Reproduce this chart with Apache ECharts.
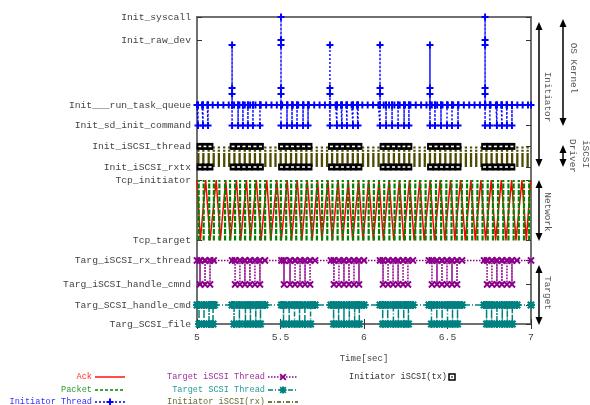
<!DOCTYPE html>
<html>
<head>
<meta charset="utf-8">
<script src="https://cdn.jsdelivr.net/npm/echarts@6/dist/echarts.min.js"></script>
<style>html,body{margin:0;padding:0;background:#fff}#chart{width:590px;height:405px}</style>
</head>
<body>
<div id="chart"></div>
<script>
// y levels (one row per traced function)
var levelNames = ['Init_syscall', 'Init_raw_dev', 'Init___run_task_queue', 'Init_sd_init_command',
    'Init_iSCSI_thread', 'Init_iSCSI_rxtx', 'Tcp_initiator', 'Tcp_target',
    'Targ_iSCSI_rx_thread', 'Targ_iSCSI_handle_cmnd', 'Targ_SCSI_handle_cmd', 'Targ_SCSI_file'];
var levelValues = [15.35, 14.2, 10.95, 9.93, 8.88, 7.85, 7.2, 4.18, 3.18, 1.98, 0.95, 0];
var xTicks = [5, 5.5, 6, 6.5, 7];

// Initiator thread: resting on run_task_queue, drops to sd_init_command, spikes up
var initBaseTimes = [5.000, 5.030, 5.062, 5.094, 5.125, 5.158, 5.190, 5.222, 5.254, 5.286, 5.318, 5.350,
    5.382, 5.414, 5.446, 5.478, 5.510, 5.542, 5.574, 5.606, 5.638, 5.670, 5.702, 5.734, 5.766, 5.798,
    5.830, 5.862, 5.894, 5.926, 5.958, 5.990, 6.022, 6.054, 6.086, 6.118, 6.150, 6.182, 6.214, 6.246,
    6.278, 6.310, 6.342, 6.374, 6.406, 6.438, 6.470, 6.502, 6.534, 6.566, 6.598, 6.630, 6.662, 6.694,
    6.726, 6.758, 6.790, 6.822, 6.854, 6.886, 6.918, 6.950, 6.982, 7.000];
var initDropTimes = [5.006, 5.036, 5.066,
    5.210, 5.246, 5.275, 5.305, 5.335, 5.377,
    5.503, 5.539, 5.569, 5.599, 5.635, 5.665,
    5.796, 5.838, 5.868, 5.898, 5.934, 5.964,
    6.096, 6.132, 6.168, 6.204, 6.240, 6.269,
    6.395, 6.425, 6.461, 6.497, 6.527, 6.563,
    6.725, 6.754, 6.796, 6.826, 6.856, 6.886];
var initSpikeTimes = [5.210, 5.503, 5.796, 6.096, 6.395, 6.725];
var initSpikeLevels = [
    [11.5, 11.8, 13.95],
    [11.5, 11.8, 13.95, 14.2, 15.35],
    [11.5, 11.8, 13.95],
    [11.5, 11.8, 13.95],
    [11.5, 11.8, 13.95],
    [11.5, 11.8, 13.95, 14.2, 15.35]];

// Initiator iSCSI (tx): marks on both iSCSI rows
var txTimes = [5.018, 5.048, 5.078,
    5.216, 5.249, 5.281, 5.314, 5.347, 5.380,
    5.506, 5.539, 5.572, 5.605, 5.638, 5.671,
    5.805, 5.838, 5.871, 5.904, 5.937, 5.970,
    6.114, 6.144, 6.177, 6.210, 6.240, 6.269,
    6.398, 6.431, 6.464, 6.497, 6.530, 6.563,
    6.722, 6.754, 6.787, 6.820, 6.853, 6.886];

// Initiator iSCSI (rx): bars between the two iSCSI rows
var rxTimes = [5.008, 5.038, 5.070, 5.100, 5.131, 5.163, 5.193, 5.224, 5.255, 5.286, 5.316, 5.347,
    5.378, 5.409, 5.440, 5.470, 5.501, 5.532, 5.563, 5.594, 5.625, 5.655, 5.686, 5.717, 5.748, 5.779,
    5.809, 5.840, 5.871, 5.902, 5.933, 5.963, 5.994, 6.025, 6.056, 6.087, 6.117, 6.148, 6.179, 6.210,
    6.241, 6.271, 6.302, 6.333, 6.364, 6.395, 6.425, 6.456, 6.487, 6.518, 6.549, 6.579, 6.610, 6.641,
    6.672, 6.703, 6.733, 6.764, 6.795, 6.826, 6.857, 6.887, 6.918, 6.949, 6.980];

// Network: packets (vertical) and acks (zigzag)
var packetTimes = [5.010, 5.040, 5.073, 5.101, 5.134, 5.168, 5.198, 5.228, 5.258, 5.288, 5.318, 5.348,
    5.378, 5.408, 5.442, 5.474, 5.502, 5.534, 5.564, 5.594, 5.625, 5.656, 5.687, 5.718, 5.749, 5.780,
    5.811, 5.842, 5.873, 5.904, 5.935, 5.966, 5.997, 6.028, 6.059, 6.090, 6.121, 6.152, 6.183, 6.214,
    6.245, 6.276, 6.307, 6.338, 6.369, 6.400, 6.431, 6.462, 6.493, 6.524, 6.555, 6.586, 6.617, 6.648,
    6.679, 6.710, 6.741, 6.772, 6.803, 6.834, 6.865, 6.896, 6.927, 6.958, 6.989];
var ackPoints = [[5.000, 7.2], [5.020, 4.18], [5.052, 7.2], [5.078, 4.18], [5.115, 7.2], [5.140, 4.18],
    [5.172, 7.2], [5.200, 4.18], [5.236, 7.2], [5.262, 4.18], [5.296, 7.2], [5.320, 4.18], [5.355, 7.2],
    [5.384, 4.18], [5.418, 7.2], [5.442, 4.18], [5.478, 7.2], [5.505, 4.18], [5.540, 7.2], [5.566, 4.18],
    [5.600, 7.2], [5.628, 4.18], [5.660, 7.2], [5.690, 4.18], [5.722, 7.2], [5.748, 4.18], [5.784, 7.2],
    [5.810, 4.18], [5.845, 7.2], [5.872, 4.18], [5.906, 7.2], [5.932, 4.18], [5.968, 7.2], [5.994, 4.18],
    [6.028, 7.2], [6.056, 4.18], [6.090, 7.2], [6.116, 4.18], [6.150, 7.2], [6.178, 4.18], [6.212, 7.2],
    [6.238, 4.18], [6.272, 7.2], [6.300, 4.18], [6.334, 7.2], [6.360, 4.18], [6.396, 7.2], [6.422, 4.18],
    [6.456, 7.2], [6.484, 4.18], [6.518, 7.2], [6.544, 4.18], [6.578, 7.2], [6.606, 4.18], [6.640, 7.2],
    [6.666, 4.18], [6.700, 7.2], [6.728, 4.18], [6.762, 7.2], [6.788, 4.18], [6.822, 7.2], [6.850, 4.18],
    [6.884, 7.2], [6.910, 4.18], [6.946, 7.2], [6.972, 4.18], [6.998, 7.2]];

// Target iSCSI thread: rx_thread -> handle_cmnd
var tiscsiTopTimes = [5.000, 5.100, 5.210, 5.407, 5.506, 5.707, 5.802, 6.000, 6.096, 6.293, 6.389, 6.587, 6.719, 6.916, 7.000];
var tiscsiDropTimes = [5.018, 5.048, 5.078,
    5.228, 5.257, 5.287, 5.317, 5.347, 5.377,
    5.521, 5.557, 5.587, 5.617, 5.647, 5.677,
    5.820, 5.850, 5.880, 5.910, 5.940, 5.970,
    6.114, 6.144, 6.174, 6.204, 6.234, 6.263,
    6.407, 6.437, 6.467, 6.497, 6.527, 6.557,
    6.737, 6.766, 6.796, 6.826, 6.856, 6.886];

// Target SCSI thread: handle_cmd -> file
var tscsiTopTimes = [5.000, 5.104, 5.210, 5.407, 5.506, 5.707, 5.802, 6.000, 6.096, 6.293, 6.389, 6.587, 6.719, 6.916, 7.000];
var tscsiDropTimes = [5.012, 5.042, 5.072, 5.096,
    5.222, 5.254, 5.290, 5.320, 5.352, 5.380,
    5.518, 5.552, 5.584, 5.614, 5.646, 5.680,
    5.818, 5.848, 5.880, 5.912, 5.944, 5.972,
    6.112, 6.142, 6.176, 6.206, 6.238, 6.266,
    6.404, 6.436, 6.468, 6.500, 6.530, 6.560,
    6.734, 6.764, 6.796, 6.828, 6.858, 6.888];

var FONT = '"Liberation Mono", "DejaVu Sans Mono", monospace';
// marker outlines in a 10x10 box
var plusPts = [[3.6, 0], [6.4, 0], [6.4, 3.6], [10, 3.6], [10, 6.4], [6.4, 6.4], [6.4, 10], [3.6, 10], [3.6, 6.4], [0, 6.4], [0, 3.6], [3.6, 3.6]];
var crossPts = [[0, 1.9], [1.9, 0], [5, 3.1], [8.1, 0], [10, 1.9], [6.9, 5], [10, 8.1], [8.1, 10], [5, 6.9], [1.9, 10], [0, 8.1], [3.1, 5]];

function toPath(pts) {
    return pts.map(function(p, i) { return (i ? 'L' : 'M') + p[0] + ',' + p[1]; }).join('') + 'Z';
}
var PLUS = 'path://' + toPath(plusPts);
var CROSS = 'path://' + toPath(crossPts);
var STAR = 'path://' + toPath(plusPts) + toPath(crossPts);

var C = {
    ack: '#ff0000', packet: '#008400', init: '#0000ff',
    tiscsi: '#8b008b', tscsi: '#008080', rx: '#4f4a00', tx: '#000000'
};

function lv(name) {
    return levelValues[levelNames.indexOf(name)];
}

// rest level, dropping to a lower row at each drop time
function stepSeries(topTimes, dropTimes, top, bottom) {
    var ev = [];
    topTimes.forEach(function(t) { ev.push({ t: t, drop: false }); });
    dropTimes.forEach(function(t) { ev.push({ t: t, drop: true }); });
    ev.sort(function(a, b) { return a.t - b.t; });
    var out = [];
    ev.forEach(function(e) {
        out.push([e.t, top]);
        if (e.drop) {
            out.push([e.t, bottom]);
            out.push([e.t, top]);
        }
    });
    return out;
}

var initBase = lv('Init___run_task_queue');
var initData = stepSeries(initBaseTimes, initDropTimes, initBase, lv('Init_sd_init_command'));
// insert spikes
initSpikeTimes.forEach(function(t, i) {
    var pts = [[t, initBase]];
    initSpikeLevels[i].forEach(function(v) { pts.push([t, v]); });
    pts.push([t, initBase]);
    var k = 0;
    while (k < initData.length && initData[k][0] <= t) k++;
    Array.prototype.splice.apply(initData, [k, 0].concat(pts));
});

var tiscsiData = stepSeries(tiscsiTopTimes, tiscsiDropTimes, lv('Targ_iSCSI_rx_thread'), lv('Targ_iSCSI_handle_cmnd'));
var tscsiData = stepSeries(tscsiTopTimes, tscsiDropTimes, lv('Targ_SCSI_handle_cmd'), lv('Targ_SCSI_file'));

var txData = [];
txTimes.forEach(function(t) {
    txData.push([t, lv('Init_iSCSI_thread')]);
    txData.push([t, lv('Init_iSCSI_rxtx')]);
});
var rxData = rxTimes.map(function(t) { return [t, lv('Init_iSCSI_rxtx'), lv('Init_iSCSI_thread')]; });
var packetData = packetTimes.map(function(t) { return [t, lv('Tcp_target'), lv('Tcp_initiator')]; });

function vSeg(color, width, dash) {
    return function(params, api) {
        var a = api.coord([api.value(0), api.value(1)]);
        var b = api.coord([api.value(0), api.value(2)]);
        return {
            type: 'line',
            shape: { x1: a[0], y1: a[1], x2: b[0], y2: b[1] },
            style: { stroke: color, lineWidth: width, lineDash: dash }
        };
    };
}

// black box with a white dash, gnuplot style
function txBox(params, api) {
    var p = api.coord([api.value(0), api.value(1)]);
    return {
        type: 'group',
        children: [
            { type: 'rect', shape: { x: p[0] - 3.4, y: p[1] - 3.5, width: 6.8, height: 7 }, style: { fill: C.tx } },
            { type: 'rect', shape: { x: p[0] - 1.5, y: p[1] - 0.8, width: 3, height: 1.6 }, style: { fill: '#fff' } }
        ]
    };
}

// double-headed arrow for the right-side annotations
function arrow(x, y1, y2) {
    return [
        { type: 'line', shape: { x1: x, y1: y1 + 3, x2: x, y2: y2 - 3 }, style: { stroke: '#000', lineWidth: 1.5 } },
        { type: 'polygon', shape: { points: [[x, y1], [x - 3.5, y1 + 8], [x + 3.5, y1 + 8]] }, style: { fill: '#000' } },
        { type: 'polygon', shape: { points: [[x, y2], [x - 3.5, y2 - 8], [x + 3.5, y2 - 8]] }, style: { fill: '#000' } }
    ];
}

function vText(str, x, y) {
    return {
        type: 'text', x: x, y: y, rotation: -Math.PI / 2,
        style: { text: str, fill: '#555', font: '9.4px ' + FONT, align: 'center', verticalAlign: 'middle' }
    };
}

function markerPolys(ptsList, cx, cy, size, color) {
    return ptsList.map(function(pts) {
        return {
            type: 'polygon',
            shape: { points: pts.map(function(p) { return [cx - size / 2 + p[0] * size / 10, cy - size / 2 + p[1] * size / 10]; }) },
            style: { fill: color }
        };
    });
}

function legendEntry(label, color, textColor, xr, y, dash, marks) {
    var els = [{
        type: 'text', x: xr, y: y,
        style: { text: label, fill: textColor, font: '8.6px ' + FONT, align: 'right', verticalAlign: 'middle' }
    }];
    if (dash !== undefined) {
        els.push({ type: 'line', shape: { x1: xr + 3, y1: y, x2: xr + 33, y2: y },
            style: { stroke: color, lineWidth: 1.4, lineDash: dash } });
    }
    if (marks) {
        els = els.concat(markerPolys(marks, xr + 18, y, 7, color));
    }
    return els;
}

var graphics = []
    .concat(arrow(539, 22, 167), arrow(563, 19, 126), arrow(563, 145, 167),
        arrow(539, 180, 241), arrow(539, 265, 325))
    .concat([vText('Initiator', 547, 97), vText('OS Kernel', 573, 68), vText('Driver', 572, 156),
        vText('iSCSI', 585, 154), vText('Network', 547, 212), vText('Target', 547, 293)])
    .concat(legendEntry('Ack', C.ack, '#ff3030', 92, 377, null))
    .concat(legendEntry('Packet', C.packet, '#2e9a2e', 92, 390, [3, 2]))
    .concat(legendEntry('Initiator Thread', C.init, '#3333ff', 92, 402, [2, 2], [plusPts]))
    .concat(legendEntry('Target iSCSI Thread', C.tiscsi, '#a030a0', 265, 377, [1.5, 1.5], [crossPts]))
    .concat(legendEntry('Target SCSI Thread', C.tscsi, '#2a9a9a', 265, 390, [5, 2, 1, 2], [plusPts, crossPts]))
    .concat(legendEntry('Initiator iSCSI(rx)', C.rx, '#6a6a30', 265, 402, [4, 2, 1, 2]))
    .concat(legendEntry('Initiator iSCSI(tx)', C.tx, '#333', 447, 377))
    .concat([{ type: 'rect', shape: { x: 449, y: 374, width: 6, height: 6 },
        style: { fill: '#fff', stroke: '#000', lineWidth: 1.5 } },
        { type: 'rect', shape: { x: 451.3, y: 376.3, width: 1.4, height: 1.4 }, style: { fill: '#000' } }]);

var myChart = echarts.init(document.getElementById('chart'), null, { renderer: 'canvas' });

var tickStyle = { show: true, inside: true, length: 5, lineStyle: { color: '#333', width: 1 } };

var option = {
    animation: false,
    backgroundColor: '#fff',
    grid: {
        left: 197, right: 59, top: 17, bottom: 81,
        show: true, borderColor: '#707070', borderWidth: 2
    },
    xAxis: [{
        type: 'value', min: 5, max: 7, interval: 0.5,
        axisLine: { show: false },
        axisTick: tickStyle,
        splitLine: { show: false },
        axisLabel: {
            margin: 8, color: '#444', fontFamily: FONT, fontSize: 9.7,
            formatter: function(v) { return xTicks.indexOf(v) >= 0 ? String(v) : ''; }
        },
        name: 'Time[sec]', nameLocation: 'middle', nameGap: 30,
        nameTextStyle: { color: '#444', fontFamily: FONT, fontSize: 9 }
    }, {
        type: 'value', position: 'top', min: 5, max: 7, interval: 0.5,
        axisLine: { show: false }, axisTick: tickStyle,
        axisLabel: { show: false }, splitLine: { show: false }
    }],
    yAxis: [{
        type: 'value', min: 0, max: 15.35,
        axisLine: { show: false },
        splitLine: { show: false },
        axisTick: Object.assign({ customValues: levelValues }, tickStyle),
        axisLabel: {
            customValues: levelValues, margin: 6, color: '#444', fontFamily: FONT, fontSize: 9.7,
            formatter: function(v) {
                for (var i = 0; i < levelValues.length; i++) {
                    if (Math.abs(levelValues[i] - v) < 1e-6) return levelNames[i];
                }
                return '';
            }
        }
    }, {
        type: 'value', position: 'right', min: 0, max: 15.35,
        axisLine: { show: false }, splitLine: { show: false },
        axisTick: Object.assign({ customValues: levelValues }, tickStyle),
        axisLabel: { show: false }
    }],
    series: [{
        name: 'Ack', type: 'line', data: ackPoints, showSymbol: false, z: 2,
        lineStyle: { color: C.ack, width: 1.5 }
    }, {
        name: 'Packet', type: 'custom', data: packetData, z: 3,
        encode: { x: 0, y: [1, 2] },
        renderItem: vSeg(C.packet, 2.2, [5, 1.5])
    }, {
        name: 'Initiator Thread', type: 'line', data: initData, clip: false, z: 3,
        symbol: PLUS, symbolSize: 7, showAllSymbol: true,
        itemStyle: { color: C.init },
        lineStyle: { color: C.init, width: 1.4, type: [2, 2] }
    }, {
        name: 'Target iSCSI Thread', type: 'line', data: tiscsiData, z: 3,
        symbol: CROSS, symbolSize: 7.5, showAllSymbol: true,
        itemStyle: { color: C.tiscsi },
        lineStyle: { color: C.tiscsi, width: 1.5, type: [1.5, 1.5] }
    }, {
        name: 'Target SCSI Thread', type: 'line', data: tscsiData, clip: false, z: 3,
        symbol: STAR, symbolSize: 8, showAllSymbol: true,
        itemStyle: { color: C.tscsi },
        lineStyle: { color: C.tscsi, width: 1.5, type: [5, 2, 1, 2] }
    }, {
        name: 'Initiator iSCSI(rx)', type: 'custom', data: rxData, z: 3,
        encode: { x: 0, y: [1, 2] },
        renderItem: vSeg(C.rx, 2.3, [14, 1.2, 2, 1.2])
    }, {
        name: 'Initiator iSCSI(tx)', type: 'custom', data: txData, z: 4,
        encode: { x: 0, y: 1 },
        renderItem: txBox
    }],
    graphic: graphics
};

myChart.setOption(option);
</script>
</body>
</html>
